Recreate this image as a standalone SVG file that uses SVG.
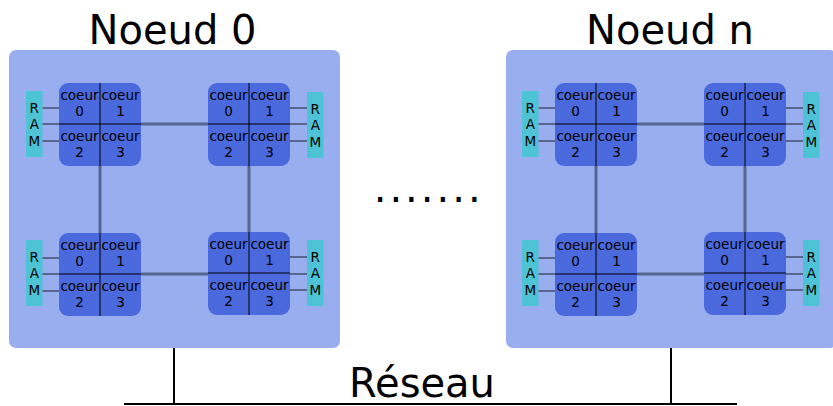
<svg xmlns="http://www.w3.org/2000/svg" width="833" height="406" viewBox="0 0 833 406">
<style>
.bg{fill:#99aeef}
.chip{fill:#4a69dc}
.ram{fill:#4ec3d5}
.div{stroke:#000;stroke-width:1;fill:none}
.thin{stroke:#1a1f33;stroke-width:1.2;fill:none}
.link{stroke:#56658f;stroke-width:3;fill:none}
.net{stroke:#000;stroke-width:2;fill:none}
.t{font-family:"DejaVu Sans",sans-serif;font-size:13.5px;fill:#000;text-anchor:middle}
.r{font-family:"DejaVu Sans",sans-serif;font-size:13.5px;fill:#000;text-anchor:middle}
.big{font-family:"DejaVu Sans",sans-serif;font-size:40px;fill:#000;text-anchor:middle}
</style>
<defs>
<g id="chipT">
<rect class="chip" x="0" y="0" width="82" height="83" rx="9"/>
<line class="div" x1="41" y1="0" x2="41" y2="83"/>
<line class="div" x1="0" y1="41" x2="82" y2="41"/>
<text class="t" x="20.5" y="16.5">coeur</text>
<text class="t" x="61.5" y="16.5">coeur</text>
<text class="t" x="20.5" y="33">0</text>
<text class="t" x="61.5" y="33">1</text>
<text class="t" x="20.5" y="57.5">coeur</text>
<text class="t" x="61.5" y="57.5">coeur</text>
<text class="t" x="20.5" y="74">2</text>
<text class="t" x="61.5" y="74">3</text>
</g>
<g id="ramT">
<rect class="ram" x="0" y="0" width="16.5" height="66"/>
<text class="r" x="8.3" y="21.5">R</text>
<text class="r" x="8.3" y="38">A</text>
<text class="r" x="8.3" y="54.5">M</text>
</g>
</defs>

<g id="node0">
<rect class="bg" x="9" y="50" width="331" height="298" rx="7"/>
<text class="big" x="172.5" y="43.5">Noeud 0</text>
<g id="n0-c00"><use href="#chipT" x="59" y="83"/></g>
<g id="n0-c01"><use href="#chipT" x="208" y="83"/></g>
<g id="n0-c10"><use href="#chipT" x="59" y="233"/></g>
<g id="n0-c11"><use href="#chipT" x="208" y="232"/></g>
<g id="n0-r00"><use href="#ramT" x="26" y="91"/></g>
<g id="n0-r01"><use href="#ramT" x="307" y="92"/></g>
<g id="n0-r10"><use href="#ramT" x="26" y="240"/></g>
<g id="n0-r11"><use href="#ramT" x="307" y="240"/></g>
</g>

<g id="noden" transform="translate(496,0)">
<rect class="bg" x="10" y="50" width="331" height="298" rx="7"/>
<text class="big" x="174" y="43.5">Noeud n</text>
<g id="nn-c00"><use href="#chipT" x="59" y="83"/></g>
<g id="nn-c01"><use href="#chipT" x="208" y="83"/></g>
<g id="nn-c10"><use href="#chipT" x="59" y="233"/></g>
<g id="nn-c11"><use href="#chipT" x="208" y="232"/></g>
<g id="nn-r00"><use href="#ramT" x="26" y="91"/></g>
<g id="nn-r01"><use href="#ramT" x="307" y="92"/></g>
<g id="nn-r10"><use href="#ramT" x="26" y="240"/></g>
<g id="nn-r11"><use href="#ramT" x="307" y="240"/></g>
</g>

<g id="connectors">
<g id="conn0">
<path class="thin" d="M42.5 108H59M42.5 124H59M42.5 141H59M290 108H307M290 124H307M290 141H307M42.5 258H59M42.5 274H59M42.5 291H59M290 257H307M290 274H307M290 290H307"/>
<path class="link" d="M141 124H208M141 274H208M100 166V233M249 166V232"/>
</g>
<g id="connn" transform="translate(496,0)">
<path class="thin" d="M42.5 108H59M42.5 124H59M42.5 141H59M290 108H307M290 124H307M290 141H307M42.5 258H59M42.5 274H59M42.5 291H59M290 257H307M290 274H307M290 290H307"/>
<path class="link" d="M141 124H208M141 274H208M100 166V233M249 166V232"/>
</g>
<path class="net" d="M174 348V404M671 348V404M124 404H737"/>
</g>

<g id="network">
<text class="big" x="422" y="397">Réseau</text>
</g>
<g id="dots">
<text font-family="DejaVu Sans, sans-serif" font-size="40" x="373.7" y="202" letter-spacing="3">.......</text>
</g>
</svg>
